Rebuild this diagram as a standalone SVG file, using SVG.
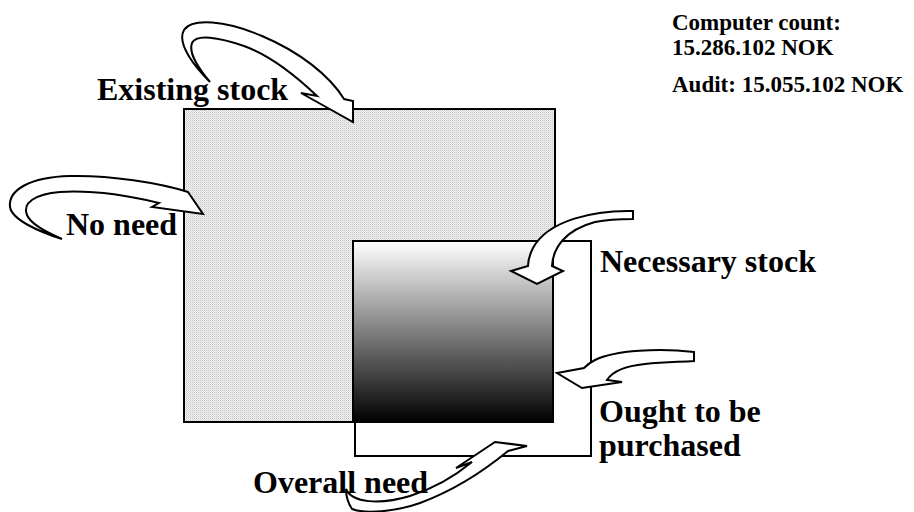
<svg xmlns="http://www.w3.org/2000/svg" width="914" height="512" viewBox="0 0 914 512">
  <defs>
    <pattern id="dots" width="2" height="2" patternUnits="userSpaceOnUse">
      <rect width="2" height="2" fill="#f4f4f4"/>
      <rect x="0" y="0" width="1" height="1" fill="#c4c4c4"/>
      <rect x="1" y="1" width="1" height="1" fill="#dcdcdc"/>
    </pattern>
    <linearGradient id="grad" x1="0" y1="0" x2="0" y2="1">
      <stop offset="0" stop-color="#ffffff"/>
      <stop offset="1" stop-color="#000000"/>
    </linearGradient>
  </defs>
  <style>
    .box { stroke: #000; stroke-width: 2; }
    .arrow { fill: #fff; stroke: #000; stroke-width: 2; stroke-linejoin: miter; }
    .lbl { font-family: "Liberation Serif", "Times New Roman", serif; font-weight: bold; font-size: 32px; fill: #000; }
    .info { font-family: "Liberation Serif", "Times New Roman", serif; font-weight: bold; font-size: 23px; fill: #000; }
  </style>
  <rect width="914" height="512" fill="#fff"/>

  <g id="existing-stock">
    <rect class="box" x="184" y="109" width="371" height="313" fill="url(#dots)"/>
  </g>
  <g id="overall-need">
    <rect class="box" x="355" y="241" width="236" height="215" fill="#fff"/>
  </g>
  <g id="necessary-stock">
    <rect class="box" x="353" y="241" width="200" height="181" fill="url(#grad)"/>
  </g>

  <g id="connectors">
    <path class="arrow" d="M 210,82 C 196,68 176,44 184,30 C 192,18 225,20 262,36 C 300,52 330,76 344,99 L 353,101 L 353,122 L 301,93 L 317,96 C 296,76 272,56 244,46 C 218,37 196,34 192,43 C 188,54 200,70 210,82 Z"/>
    <path class="arrow" d="M 62,239 C 40,232 12,220 10,207 C 8,190 30,177 70,176 C 110,175 160,183 188,192 L 203,214 L 152,207 L 159,203 C 130,196 95,190 60,192 C 35,194 22,203 27,215 C 31,225 48,233 62,239 Z"/>
    <path class="arrow" d="M 633,211 C 595,210 548,220 533,248 C 529,256 528,262 528,266 L 511,271 L 537,284 L 563,271 L 552,266 C 553,248 565,230 595,222 C 610,219 622,219 633,219 Z"/>
    <path class="arrow" d="M 694,352 C 660,348 615,350 595,360 C 589,363 586,366 584,368 L 557,373 L 582,388 L 622,382 L 607,380 C 612,372 625,366 645,364 C 665,362 680,362 694,361 Z"/>
    <path class="arrow" d="M 346,489 C 352,503 380,505 410,496 C 435,488 455,476 472,462 L 456,468 L 495,442 L 527,446 L 508,451 C 485,470 455,490 420,503 C 395,512 365,514 352,509 C 348,503 346,495 346,489 Z"/>
  </g>

  <g id="labels">
    <text class="lbl" x="97" y="100">Existing stock</text>
    <text class="lbl" x="66" y="235">No need</text>
    <text class="lbl" x="600" y="272">Necessary stock</text>
    <text class="lbl" x="599" y="422">Ought to be</text>
    <text class="lbl" x="599" y="456">purchased</text>
    <text class="lbl" x="253" y="493">Overall need</text>
    <text class="info" x="672" y="30">Computer count:</text>
    <text class="info" x="672" y="55">15.286.102 NOK</text>
    <text class="info" x="672" y="92">Audit: 15.055.102 NOK</text>
  </g>
</svg>
